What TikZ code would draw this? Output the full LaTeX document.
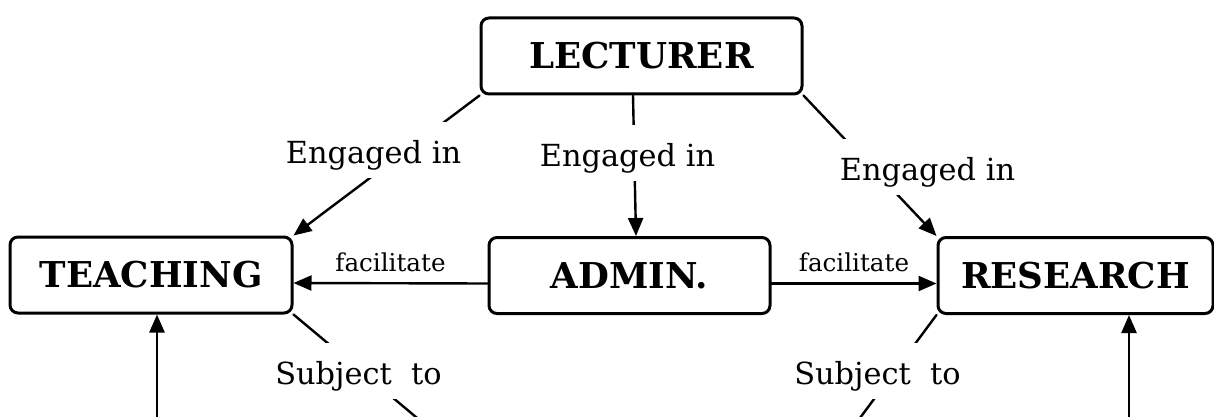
\documentclass[tikz,border=0pt]{standalone}
\usepackage{fontspec}
\setmainfont{DejaVu Serif}
\usetikzlibrary{arrows.meta}

\begin{document}
\begin{tikzpicture}[x=0.5pt, y=-0.5pt, line cap=round, line join=round,
  box/.style={draw, line width=1.5pt, rounded corners=4pt, minimum height=38pt,
    font=\fontsize{17.8}{22}\selectfont\bfseries},
  lbl/.style={fill=white, inner xsep=1pt, inner ysep=2pt, text height=18.5pt,
    text depth=5.5pt, anchor=base, font=\fontsize{15.2}{18}\selectfont},
  small/.style={above=5pt, inner sep=0pt, font=\fontsize{12.3}{14}\selectfont},
  conn/.style={line width=1.2pt},
  arr/.style={conn, -{Triangle[length=9pt, width=7.5pt]}}]

% Rahmen
\clip (0,0) rectangle (1214,417);

% Kaesten
\node[box, minimum width=160.5pt] (lect) at (641.5,56) {LECTURER};
\node[box, minimum width=141pt] (teach) at (151,275) {TEACHING};
\node[box, minimum width=140.5pt] (admin) at (629.5,275.5) {ADMIN.};
\node[box, minimum width=137.5pt] (res) at (1075.5,275.5) {RESEARCH};

% Engaged in
\draw[arr] (lect.south west) -- (teach.north east);
\draw[arr] ([xshift=-4.25pt]lect.south) -- ([xshift=3.25pt]admin.north);
\draw[arr] (lect.south east) -- (res.north west);

% facilitate
\draw[arr] ([yshift=-4pt]admin.west) -- node[small] {facilitate} ([yshift=-4pt]teach.east);
\draw[arr] ([yshift=-4pt]admin.east) -- node[small] {facilitate} ([yshift=-4pt]res.west);

% Subject to (nach unten weiter)
\coordinate (b1) at (515,500);
\coordinate (b2) at (799,500);
\draw[conn] (teach.south east) -- (b1);
\draw[conn] (res.south west) -- (b2);

% Pfeile von unten
\coordinate (b3) at (157,500);
\coordinate (b4) at (1129,500);
\draw[arr] (b3) -- (b3 |- teach.south);
\draw[arr] (b4) -- (b4 |- res.south);

% Beschriftungen
\node[lbl] (e1) at (373.5,163) {Engaged in};
\node[lbl] (e2) at (627.5,166) {Engaged in};
\node[lbl] (e3) at (927.5,180) {Engaged in};
\node[lbl] (s1) at (358.5,384) {Subject\ \ to};
\node[lbl] (s2) at (877.5,384) {Subject\ \ to};

\end{tikzpicture}
\end{document}
